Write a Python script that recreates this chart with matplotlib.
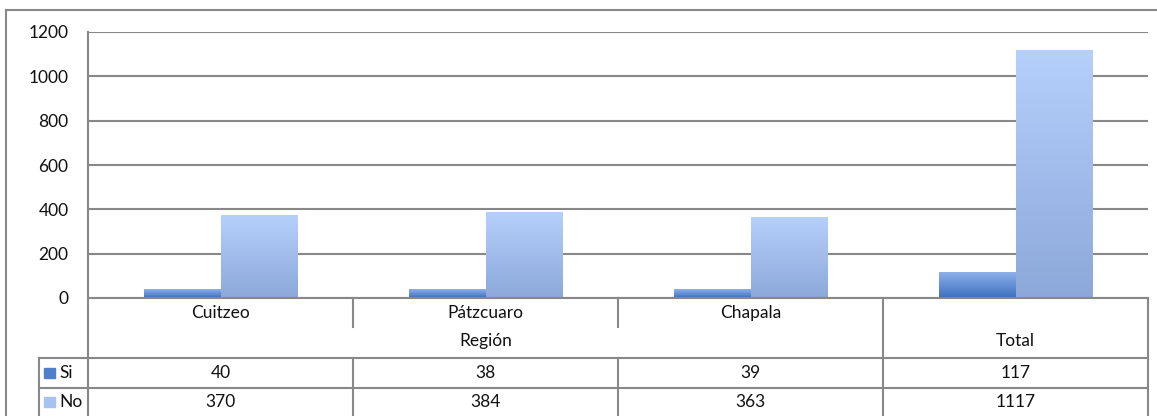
import numpy as np
import matplotlib
matplotlib.use("Agg")
import matplotlib.pyplot as plt
from matplotlib.transforms import blended_transform_factory
from matplotlib.colors import LinearSegmentedColormap

plt.rcParams['font.family'] = ['Lato', 'DejaVu Sans']
plt.rcParams['text.color'] = '#111111'

categories = ["Cuitzeo", "Pátzcuaro", "Chapala", "Total"]
group_label = "Región"
series = ["Si", "No"]
si_values = [40, 38, 39, 117]
no_values = [370, 384, 363, 1117]
yticks = [0, 200, 400, 600, 800, 1000, 1200]

W, H = 1157, 416
fig = plt.figure(figsize=(W / 100, H / 100), dpi=100)
fs = 12.5

# plot area in pixels
left, right, top, zero = 88, 1148, 32, 298
ax = fig.add_axes([left / W, (H - zero) / H, (right - left) / W, (zero - top) / H])
ax.set_xlim(0, len(categories))
ax.set_ylim(0, 1200)
ax.set_yticks(yticks)
ax.set_xticks([])
ax.tick_params(axis='y', length=0, labelsize=fs, pad=14, labelcolor='#111111')
for s in ax.spines.values():
    s.set_visible(False)
grid_col = '#888888'
ax.grid(axis='y', color=grid_col, lw=1.5)
ax.set_axisbelow(True)

si_cmap = LinearSegmentedColormap.from_list('si', ['#3b6fbe', '#8eb0ea'])
no_cmap = LinearSegmentedColormap.from_list('no', ['#8ca8da', '#b6d0fc'])
grad = np.linspace(0, 1, 256).reshape(-1, 1)

bw = 0.289
x = np.arange(len(categories)) + 0.5
for xi, v in zip(x, si_values):
    ax.imshow(grad, extent=(xi - bw, xi, 0, v), origin='lower', aspect='auto',
              cmap=si_cmap, zorder=3)
for xi, v in zip(x, no_values):
    ax.imshow(grad, extent=(xi, xi + bw, 0, v), origin='lower', aspect='auto',
              cmap=no_cmap, zorder=3)
ax.set_xlim(0, len(categories))
ax.set_ylim(0, 1200)

# table / axis lines below the plot, x in data units, y in pixels
tr = blended_transform_factory(ax.transData, fig.transFigure)
def fy(p):
    return (H - p) / H

def hline(y, x0, x1):
    fig.add_artist(plt.Line2D([x0, x1], [fy(y), fy(y)], transform=tr, color=grid_col, lw=1.5))

def vline(xv, y0, y1):
    fig.add_artist(plt.Line2D([xv, xv], [fy(y0), fy(y1)], transform=tr, color=grid_col, lw=1.5))

x_tab = (39 - left) / (right - left) * len(categories)
hline(zero, 0, 4)
hline(358, x_tab, 4)
hline(388, x_tab, 4)
hline(418, x_tab, 4)
vline(0, top, 420)
vline(1, zero, 327)
vline(2, zero, 327)
vline(3, zero, 420)
vline(1, 358, 420)
vline(2, 358, 420)
vline(4, zero, 420)
vline(x_tab, 358, 420)

# outer frame
fig.add_artist(plt.Line2D([6 / W, 1], [fy(10), fy(10)], transform=fig.transFigure, color=grid_col, lw=1.5))
fig.add_artist(plt.Line2D([6 / W, 6 / W], [fy(10), 0], transform=fig.transFigure, color=grid_col, lw=1.5))

for xi, c in zip(x[:3], categories[:3]):
    fig.text(xi, fy(313), c, transform=tr, ha='center', va='center', fontsize=fs)
fig.text(1.5, fy(341), group_label, transform=tr, ha='center', va='center', fontsize=fs)
fig.text(x[3], fy(341), categories[3], transform=tr, ha='center', va='center', fontsize=fs)

rows_y = [373, 402]
for yy, vals in zip(rows_y, [si_values, no_values]):
    for xi, v in zip(x, vals):
        fig.text(xi, fy(yy), str(v), transform=tr, ha='center', va='center', fontsize=fs)

swatch_cols = ['#4f7fcb', '#a6c2f0']
for yy, name, col in zip(rows_y, series, swatch_cols):
    fig.patches.append(plt.Rectangle((44 / W, fy(yy + 5)), 11 / W, 10 / H,
                                     transform=fig.transFigure, color=col))
    fig.text(59 / W, fy(yy), name, ha='left', va='center', fontsize=fs)

fig.savefig("out.png", dpi=100)
